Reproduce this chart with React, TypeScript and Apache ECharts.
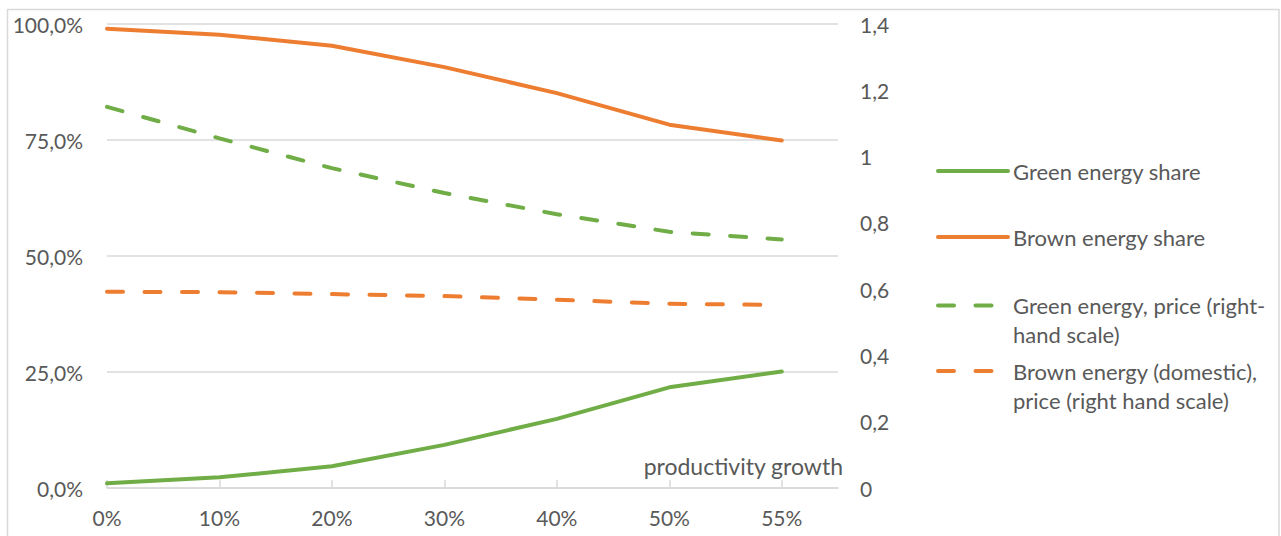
import React, { useEffect, useRef } from "react";
import * as echarts from "echarts";

// Productivity growth scenarios (x axis)
const categories = ["0%", "10%", "20%", "30%", "40%", "50%", "55%"];

// Shares, left-hand scale (%)
const greenShare = [1.0, 2.3, 4.7, 9.3, 14.9, 21.7, 25.1];
const brownShare = [99.0, 97.7, 95.3, 90.7, 85.1, 78.3, 74.9];

// Prices, right-hand scale
const greenPrice = [1.15, 1.055, 0.965, 0.89, 0.826, 0.773, 0.75];
const brownPrice = [0.592, 0.591, 0.585, 0.579, 0.568, 0.556, 0.552];

const seriesNames = [
  "Green energy share",
  "Brown energy share",
  "Green energy, price (right-hand scale)",
  "Brown energy (domestic), price (right hand scale)",
];
// Two-line entries get a leading blank line so the key sits beside the first line
const legendLabels = [
  "Green energy share",
  "Brown energy share",
  "\nGreen energy, price (right-\nhand scale)",
  "\nBrown energy (domestic),\nprice (right hand scale)",
];

const GREEN = "#70ad47";
const ORANGE = "#ed7d31";
const TEXT = "#595959";
const GRID = "#d9d9d9";
const FONT = "Lato";
const FS = 21;
const LEGEND_FS = 22;

const toPoints = (vals: number[]) => vals.map((v, i) => [i, v]);
const commaNum = (v: number) => String(Number(v.toFixed(1))).replace(".", ",");

export default function App() {
  const ref = useRef<HTMLDivElement>(null);

  useEffect(() => {
    if (!ref.current) return;
    const chart = echarts.init(ref.current, undefined, { renderer: "svg" });

    const dash = [16, 21.5];
    const lineSeries = (
      idx: number,
      data: number[],
      color: string,
      yAxisIndex: number,
      dashed: boolean
    ) => ({
      type: "line",
      name: seriesNames[idx],
      data: toPoints(data),
      yAxisIndex,
      symbol: "none",
      smooth: false,
      lineStyle: {
        color,
        width: 4,
        type: dashed ? dash : "solid",
        cap: "round",
        join: "round",
      },
      itemStyle: { color },
    });

    const legendTops = [156.5, 222.5, 262, 327.5];
    const legends = seriesNames.map((name, i) => ({
      show: true,
      data: [name],
      left: 936,
      top: legendTops[i],
      padding: 0,
      itemWidth: 70,
      itemHeight: 14,
      selectedMode: false,
      itemStyle: { opacity: 0 },
      lineStyle: { width: 4, cap: "round", type: "inherit" },
      formatter: () => legendLabels[i],
      textStyle: {
        color: TEXT,
        fontFamily: FONT,
        fontSize: LEGEND_FS,
        lineHeight: 29,
      },
    }));

    chart.setOption({
      animation: false,
      backgroundColor: "#ffffff",
      textStyle: { fontFamily: FONT, color: TEXT },
      graphic: [
        {
          type: "rect",
          shape: { x: 7.5, y: 9.5, width: 1271.5, height: 600 },
          style: { fill: "none", stroke: GRID, lineWidth: 1.5 },
          silent: true,
        },
      ],
      grid: { left: 107, right: 443, top: 24, bottom: 48 },
      legend: legends,
      xAxis: {
        type: "value",
        min: 0,
        max: 6.5,
        interval: 1,
        name: "productivity growth",
        nameLocation: "end",
        nameGap: 5,
        nameTextStyle: {
          align: "right",
          verticalAlign: "bottom",
          padding: [0, 0, 11, 0],
          color: TEXT,
          fontFamily: FONT,
          fontSize: 23,
        },
        axisLine: { lineStyle: { color: GRID, width: 1.5 } },
        axisTick: {
          show: true,
          inside: true,
          length: 8,
          customValues: categories.map((_, i) => i),
          lineStyle: { color: GRID, width: 1.5 },
        },
        axisLabel: {
          customValues: categories.map((_, i) => i),
          formatter: (v: number) => categories[v] ?? "",
          color: TEXT,
          fontFamily: FONT,
          fontSize: FS,
          margin: 19,
        },
        splitLine: { show: false },
      },
      yAxis: [
        {
          type: "value",
          min: 0,
          max: 100,
          interval: 25,
          axisLine: { show: false },
          axisTick: { show: false },
          axisLabel: {
            formatter: (v: number) => v.toFixed(1).replace(".", ",") + "%",
            color: TEXT,
            fontFamily: FONT,
            fontSize: FS,
            margin: 24,
          },
          splitLine: { lineStyle: { color: GRID, width: 1.5 } },
        },
        {
          type: "value",
          position: "right",
          min: 0,
          max: 1.4,
          interval: 0.2,
          axisLine: { show: false },
          axisTick: { show: false },
          axisLabel: {
            formatter: (v: number) => commaNum(v),
            color: TEXT,
            fontFamily: FONT,
            fontSize: FS,
            margin: 22,
          },
          splitLine: { show: false },
        },
      ],
      series: [
        lineSeries(0, greenShare, GREEN, 0, false),
        lineSeries(1, brownShare, ORANGE, 0, false),
        lineSeries(2, greenPrice, GREEN, 1, true),
        lineSeries(3, brownPrice, ORANGE, 1, true),
      ],
    });

    return () => chart.dispose();
  }, []);

  return (
    <div
      ref={ref}
      style={{ position: "absolute", left: 0, top: 0, width: 1281, height: 536 }}
    />
  );
}
